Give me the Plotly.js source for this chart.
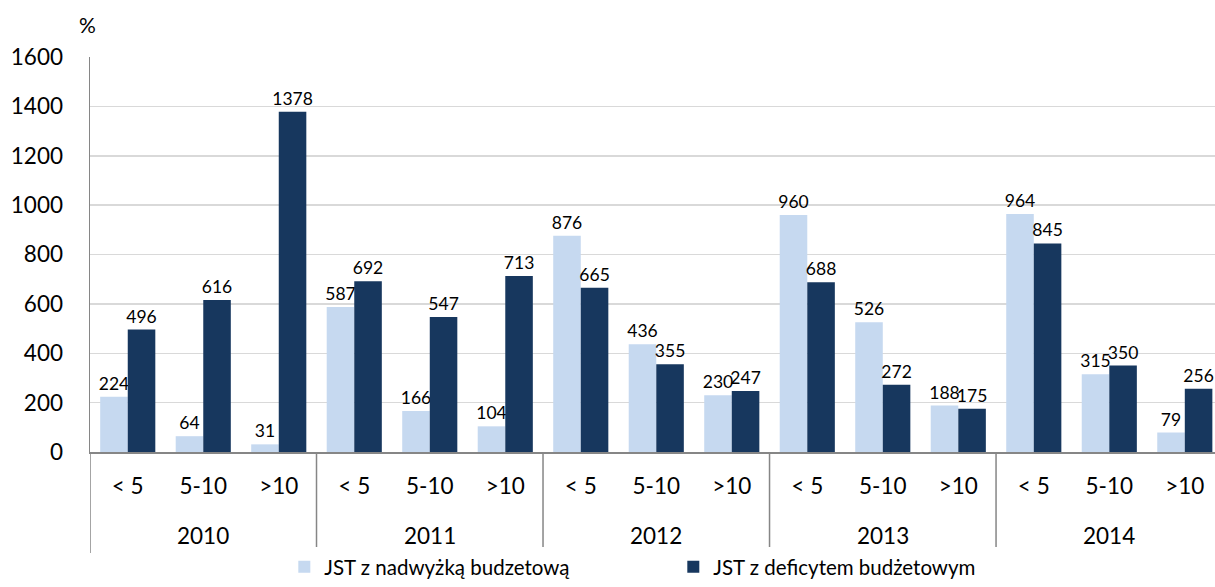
<!DOCTYPE html>
<html><head><meta charset="utf-8">
<script src="https://cdn.plot.ly/plotly-3.0.1.min.js"></script>
<style>body{margin:0;background:#fff}#chart{width:1215px;height:587px}</style>
</head><body><div id="chart"></div>
<script>
const years = ["2010","2010","2010","2011","2011","2011","2012","2012","2012","2013","2013","2013","2014","2014","2014"];
const ranges = ["< 5","5-10",">10","< 5","5-10",">10","< 5","5-10",">10","< 5","5-10",">10","< 5","5-10",">10"];
const surplus = [224,64,31,587,166,104,876,436,230,960,526,188,964,315,79];
const deficit = [496,616,1378,692,547,713,665,355,247,688,272,175,845,350,256];
const seriesNames = ["JST z nadwyżką budzetową","JST z deficytem budżetowym"];
const yTicks = [0,200,400,600,800,1000,1200,1400,1600];

const FONT = "Lato, 'Open Sans', sans-serif";
const keys = years.map((y,i)=>y+" "+ranges[i]);
const yearList = [...new Set(years)];

const common = {type:"bar", x:keys, textposition:"outside", cliponaxis:false, constraintext:"none",
  textfont:{family:FONT,size:17.5,color:"#000"}, hoverinfo:"y"};
const data = [
  Object.assign({}, common, {name:seriesNames[0], y:surplus, text:surplus.map(String), marker:{color:"#c6d9f0"}}),
  Object.assign({}, common, {name:seriesNames[1], y:deficit, text:deficit.map(String), marker:{color:"#17375e"}})
];

const shapes = [];
const annotations = [{text:"%", xref:"paper", yref:"paper", x:-0.002, y:1.082, xanchor:"center", yanchor:"middle",
    showarrow:false, font:{family:FONT,size:21,color:"#000"}}];
yearList.forEach((yr)=>{
  const idx = years.map((v,i)=>v===yr?i:-1).filter(i=>i>=0);
  const first = idx[0], last = idx[idx.length-1];
  shapes.push({type:"line", xref:"x", yref:"paper", x0:first-0.5, x1:first-0.5, y0:0, y1:-0.256,
    line:{color:"#868686", width:1.5}});
  annotations.push({text:yr, xref:"x", yref:"paper", x:(first+last)/2, y:-0.2114, xanchor:"center", yanchor:"middle",
    showarrow:false, font:{family:FONT,size:22.5,color:"#000"}});
});

const layout = {
  width:1215, height:587,
  margin:{l:90, r:0, t:57, b:135, autoexpand:false},
  paper_bgcolor:"#fff", plot_bgcolor:"#fff",
  font:{family:FONT, size:20, color:"#000"},
  barmode:"group", bargap:0.27, bargroupgap:0,
  showlegend:true,
  legend:{orientation:"h", xref:"container", yref:"container", x:0.234, xanchor:"left", y:-0.012, yanchor:"bottom",
    font:{family:FONT,size:20.5,color:"#000"}, entrywidth:344, entrywidthmode:"pixels", traceorder:"normal"},
  xaxis:{type:"category", range:[-0.5,14.4], showline:true, linecolor:"#868686", linewidth:2,
    tickvals:keys, ticktext:ranges, ticklabelstandoff:13,
    tickfont:{family:FONT,size:22.5,color:"#000"}, ticks:"", showgrid:false, fixedrange:true},
  yaxis:{range:[0,1600], tickvals:yTicks, ticktext:yTicks.map(String), showgrid:true, gridcolor:"#d9d9d9", gridwidth:1.5,
    showline:true, linecolor:"#868686", linewidth:1.5, zeroline:false,
    tickfont:{family:FONT,size:22.5,color:"#000"}, ticklabelstandoff:21, fixedrange:true},
  shapes:shapes,
  annotations:annotations
};
Plotly.newPlot("chart", data, layout, {displayModeBar:false, staticPlot:true});
</script></body></html>
